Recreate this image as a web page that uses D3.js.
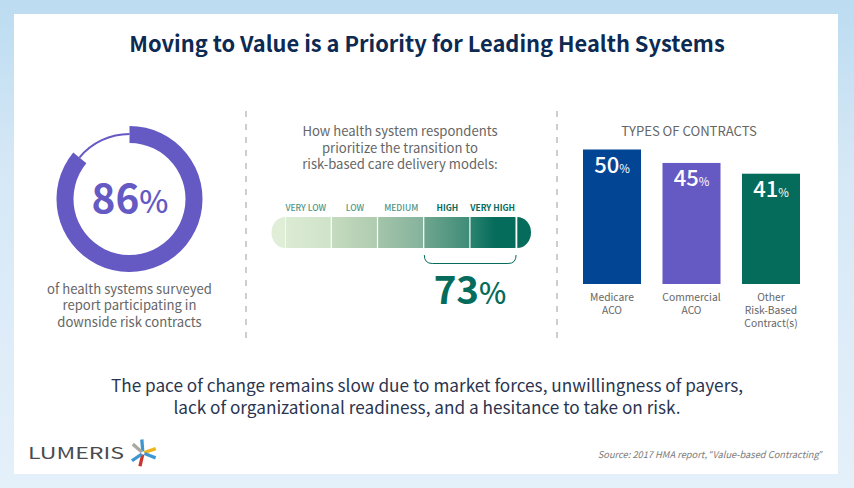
<!DOCTYPE html>
<html><head><meta charset="utf-8">
<script src="https://cdn.jsdelivr.net/npm/d3@7"></script>
<style>html,body{margin:0;padding:0;background:#fff}svg{display:block}text{font-family:"Noto Sans CJK SC","Noto Sans",sans-serif}</style>
</head><body><svg id="c" width="854" height="488"></svg>
<script>
const title = "Moving to Value is a Priority for Leading Health Systems";
const donutValue = 86;
const donutCaption = ["of health systems surveyed","report participating in","downside risk contracts"];
const scaleHeading = ["How health system respondents","prioritize the transition to","risk-based care delivery models:"];
const levels = ["VERY LOW","LOW","MEDIUM","HIGH","VERY HIGH"];
const levelStart = ["#dcebd4","#c5dbbf","#a3c5aa","#6fa68f","#2b8470"];
const levelEnd = ["#cfe3c9","#aecbb0","#85b29c","#3f8c78","#056b5b"];
const levelValue = 73;
const barHeading = "TYPES OF CONTRACTS";
const barCats = ["Medicare","Commercial","Other"];
const barCatLabels = [["Medicare","ACO"],["Commercial","ACO"],["Other","Risk-Based","Contract(s)"]];
const barValues = [50,45,41];
const barColors = ["#024595","#6559c3","#056b5b"];
const footer = ["The pace of change remains slow due to market forces, unwillingness of payers,","lack of organizational readiness, and a hesitance to take on risk."];
const source = ["Source: 2017 HMA report, ","\u201c","Value-based Contracting","\u201d"];

const svg = d3.select("#c");
const defs = svg.append("defs");
const bg = defs.append("linearGradient").attr("id","bg").attr("x1",0).attr("x2",0).attr("y1",0).attr("y2",1);
bg.append("stop").attr("offset",0).attr("stop-color","#bcdcf1");
bg.append("stop").attr("offset",0.35).attr("stop-color","#d6e8f6");
bg.append("stop").attr("offset",1).attr("stop-color","#e4f0fa");
svg.append("rect").attr("width",854).attr("height",488).attr("fill","url(#bg)");
svg.append("rect").attr("x",14).attr("y",14).attr("width",824).attr("height",460).attr("fill","#fff");

function txt(x,y,s,size,fill,weight,anchor,style){
  return svg.append("text").attr("x",x).attr("y",y).text(s).attr("font-size",size).attr("fill",fill)
   .attr("font-weight",weight||400).attr("text-anchor",anchor||"middle").attr("font-style",style||"normal");
}
txt(427,52,title,21.85,"#0c2a52",700);

// dividers
[246,557].forEach(x=>svg.append("line").attr("x1",x).attr("x2",x).attr("y1",111).attr("y2",340)
  .attr("stroke","#b9b9b9").attr("stroke-width",1.4).attr("stroke-dasharray","6 7"));

// donut
const dg = svg.append("g").attr("transform","translate(129.5,199)");
const angle = d3.scaleLinear().domain([0,100]).range([0,2*Math.PI]);
dg.append("path").attr("d",d3.arc().innerRadius(64).outerRadius(66).startAngle(angle(donutValue)).endAngle(angle(100))()).attr("fill","#6559c3");
dg.append("path").attr("d",d3.arc().innerRadius(56).outerRadius(73).startAngle(angle(0)).endAngle(angle(donutValue))()).attr("fill","#6559c3");
const dl = txt(130,213,donutValue,40.5,"#6559c3",700);
dl.append("tspan").text("%").attr("font-size",31).attr("font-weight",500);
donutCaption.forEach((s,i)=>txt(129.5,293.5+i*16.5,s,13.1,"#666"));

// scale
scaleHeading.forEach((s,i)=>txt(400,136+i*16.5,s,13.1,"#666"));
const sx = d3.scaleBand().domain(levels).range([285.7,516.7]);
const y0=217,h=31;
levels.forEach((l,i)=>{
  const g = defs.append("linearGradient").attr("id","lv"+i);
  g.append("stop").attr("offset",0).attr("stop-color",levelStart[i]);
  g.append("stop").attr("offset",i==4?0.55:1).attr("stop-color",levelEnd[i]);
});
svg.append("path").attr("d",`M285,${y0}A13.5,15.5 0 0 0 285,${y0+h}Z`).attr("fill","#e0eed8");
svg.append("path").attr("d",`M517.3,${y0}A13.7,15.5 0 0 1 517.3,${y0+h}Z`).attr("fill","#056b5b");
svg.selectAll(".lv").data(levels).join("rect").attr("x",d=>sx(d)).attr("y",y0)
  .attr("width",sx.bandwidth()-1.2).attr("height",h).attr("fill",(d,i)=>`url(#lv${i})`);
levels.forEach((l,i)=>{
  txt(sx(l)+sx.bandwidth()/2-(i==4?1:0)-(i==0?3:0),211,l,8.5,i>2?"#056b5b":"#4f9585",i>2?700:500);
});
const bx0=sx("HIGH"), bx1=sx("VERY HIGH")+sx.bandwidth()-0.6;
svg.append("path").attr("d",`M${bx0},255Q${bx0},263.5 ${bx0+8},263.5H${bx1-8}Q${bx1},263.5 ${bx1},255`)
  .attr("fill","none").attr("stroke","#056b5b").attr("stroke-width",1);
const ll = txt(470,304,levelValue,38.5,"#056b5b",700);
ll.append("tspan").text("%").attr("font-size",29).attr("font-weight",500);

// bars
txt(689,136,barHeading,13.1,"#666");
const x = d3.scaleBand().domain(barCats).range([583,800]).paddingInner(0.27);
const y = d3.scaleLinear().domain([0,50]).range([284,149.5]);
svg.selectAll(".bar").data(barValues).join("rect").attr("x",(d,i)=>x(barCats[i])).attr("y",d=>y(d))
  .attr("width",x.bandwidth()).attr("height",d=>y(0)-y(d)).attr("fill",(d,i)=>barColors[i]);
barValues.forEach((v,i)=>{
  const cx=x(barCats[i])+x.bandwidth()/2;
  const t=txt(cx,y(v)+23,v,22,"#fff",500);
  t.append("tspan").text("%").attr("font-size",11.5).attr("font-weight",400);
  barCatLabels[i].forEach((s,j)=>txt(cx,301+j*13,s,10.3,"#666"));
});

// footer
footer.forEach((s,i)=>txt(427,392+i*21.6,s,17.2,"#2b3550"));
const st = svg.append("text").attr("x",822).attr("y",458).attr("text-anchor","end").attr("font-size",9.3).attr("fill","#7a7a7a").attr("font-style","italic");
source.forEach((s,i)=>st.append("tspan").text(s).style("font-family",i%2?"'Noto Sans'":null));

// logo
txt(28,459,"LUMERIS",15.5,"#4a4a4f",400,"start").attr("textLength",96).attr("lengthAdjust","spacingAndGlyphs");
const lg = svg.append("g").attr("transform","translate(143,453)");
const logoBlades = [["#3f97d0",-8],["#f0b51c",68],["#3f97d0",108],["#c8372e",190],["#3f97d0",232],["#a9a89c",-52]];
const blade = d3.line().curve(d3.curveLinear);
logoBlades.forEach(b=>lg.append("path").attr("d",blade([[-1.6,-1.5],[1.6,-1.5],[2.4,-13.5],[-1,-13.5]])+"Z")
  .attr("fill",b[0]).attr("transform",`rotate(${b[1]})`));
</script></body></html>
